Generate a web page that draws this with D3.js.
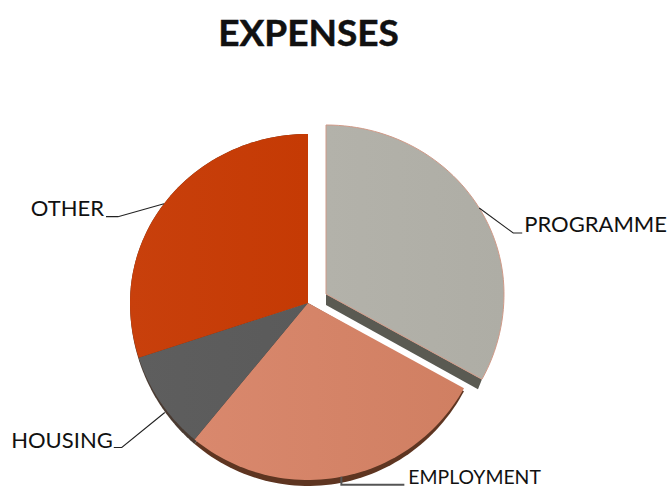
<!DOCTYPE html>
<html>
<head>
<meta charset="utf-8">
<title>Expenses</title>
<script src="https://cdn.jsdelivr.net/npm/d3@7"></script>
<style>
	html, body { margin: 0; padding: 0; background: #fff; }
	svg { display: block; }
	text { font-family: Lato, "Open Sans", sans-serif; fill: #111; }
</style>
</head>
<body>
<svg width="670" height="487"></svg>
<script>
const categories = ["PROGRAMME", "EMPLOYMENT", "HOUSING", "OTHER"];
const values = [33, 28, 9, 30];
const topColors = ["#b3b2aa", "#d9886d", "#5e5e5e", "#c8400c"];
const endColors = ["#aeada5", "#d07f62", "#5a5a5a", "#c53a04"];
const wallColors = ["#5a5a52", "#5e3521", "#4a3b32", "#5e3521"];

const svg = d3.select("svg");
const cx = 308, cy = 303;
const rx = 178, ryTop = 169, ryBottom = 177, wallDepth = 6;

// The picture is a tilted 3D pie, so the top and bottom halves have different radii
const xScale = d3.scaleLinear().domain([-1, 1]).range([-rx, rx]);
const yScale = d3.scaleLinear().domain([1, 0, -1]).range([-ryTop, 0, ryBottom]);
const wallY = d3.scaleLinear().domain([1, 0, -1]).range([-ryTop, 0, ryBottom + wallDepth]);

const pie = d3.pie().sort(null);
const slices = pie(values);

function outerPoint(angle, r = 1, y = yScale) {
	return [xScale(Math.sin(angle) * r), y(Math.cos(angle) * r)];
}

function slicePath(d, y = yScale) {
	const steps = d3.range(0, 61).map(
		(i) => d.startAngle + (i / 60) * (d.endAngle - d.startAngle)
	);
	return d3.line()([[0, 0], ...steps.map((a) => outerPoint(a, 1, y))]) + "Z";
}

function sliceCenter(d, i) {
	// Only the first slice is pulled out
	if (i !== 0) return [cx, cy];
	return [cx + 18, cy - 9];
}

const defs = svg.append("defs");
categories.forEach((c, i) => {
	const grad = defs.append("linearGradient").attr("id", "grad" + i);
	grad.append("stop").attr("offset", "0%").attr("stop-color", topColors[i]);
	grad.append("stop").attr("offset", "100%").attr("stop-color", endColors[i]);
});

svg.append("text")
	.attr("x", 308.5)
	.attr("y", 46)
	.attr("text-anchor", "middle")
	.attr("stroke", "#111")
	.attr("stroke-width", 0.5)
	.style("font-size", "37px")
	.style("font-weight", "700")
	.text("EXPENSES");

const g = svg.append("g");

// Walls first so the faces sit on top
g.selectAll(".wall")
	.data(slices.slice(1))
	.enter()
	.append("path")
	.attr("class", "wall")
	.attr("transform", (d, i) => `translate(${sliceCenter(d, i + 1)})`)
	.attr("d", (d) => slicePath(d, wallY))
	.attr("fill", (d, i) => wallColors[i + 1]);

// Wall along the lower cut edge of the pulled-out slice
const first = slices[0];
const firstCenter = sliceCenter(first, 0);
const edge = outerPoint(first.endAngle);
g.append("path")
	.attr("transform", `translate(${firstCenter})`)
	.attr("d", d3.line()([[0, 0], edge, [edge[0] - 4, edge[1] + 10], [0, 11]]) + "Z")
	.attr("fill", wallColors[0]);

g.selectAll(".slice")
	.data(slices)
	.enter()
	.append("path")
	.attr("class", "slice")
	.attr("transform", (d, i) => `translate(${sliceCenter(d, i)})`)
	.attr("d", (d) => slicePath(d))
	.attr("fill", (d, i) => `url(#grad${i})`)
	.attr("stroke", (d, i) => (i === 0 ? "#d09a88" : "none"))
	.attr("stroke-width", 1);

// Labels: elbow and text position are relative to the point on the rim
const labelOffsets = [
	{ start: [0, 0], elbow: [34, 25], end: [43, 25], text: [45, 24], anchor: "start", size: 22, width: 1.1, color: "#222" },
	{ start: [0, 0], elbow: [0, 8], end: [63, 8], text: [67, 7], anchor: "start", size: 19.4, width: 2, color: "#555" },
	{ start: [4, 10], elbow: [-39, 45], end: [-47, 45], text: [-48, 46], anchor: "end", size: 22, width: 1.1, color: "#222" },
	{ start: [0, 0], elbow: [-46, 13], end: [-58, 13], text: [-60, 12], anchor: "end", size: 22, width: 1.1, color: "#222" }
];

const labels = svg.append("g");
slices.forEach((d, i) => {
	const c = sliceCenter(d, i);
	const rim = outerPoint((d.startAngle + d.endAngle) / 2);
	const p = [c[0] + rim[0], c[1] + rim[1]];
	const o = labelOffsets[i];
	labels.append("path")
		.attr("d", d3.line()([
			[p[0] + o.start[0], p[1] + o.start[1]],
			[p[0] + o.elbow[0], p[1] + o.elbow[1]],
			[p[0] + o.end[0], p[1] + o.end[1]]
		]))
		.attr("fill", "none")
		.attr("stroke", o.color)
		.attr("stroke-width", o.width);
	labels.append("text")
		.attr("x", p[0] + o.text[0])
		.attr("y", p[1] + o.text[1])
		.attr("text-anchor", o.anchor)
		.style("font-size", o.size + "px")
		.text(categories[i]);
});
</script>
</body>
</html>
